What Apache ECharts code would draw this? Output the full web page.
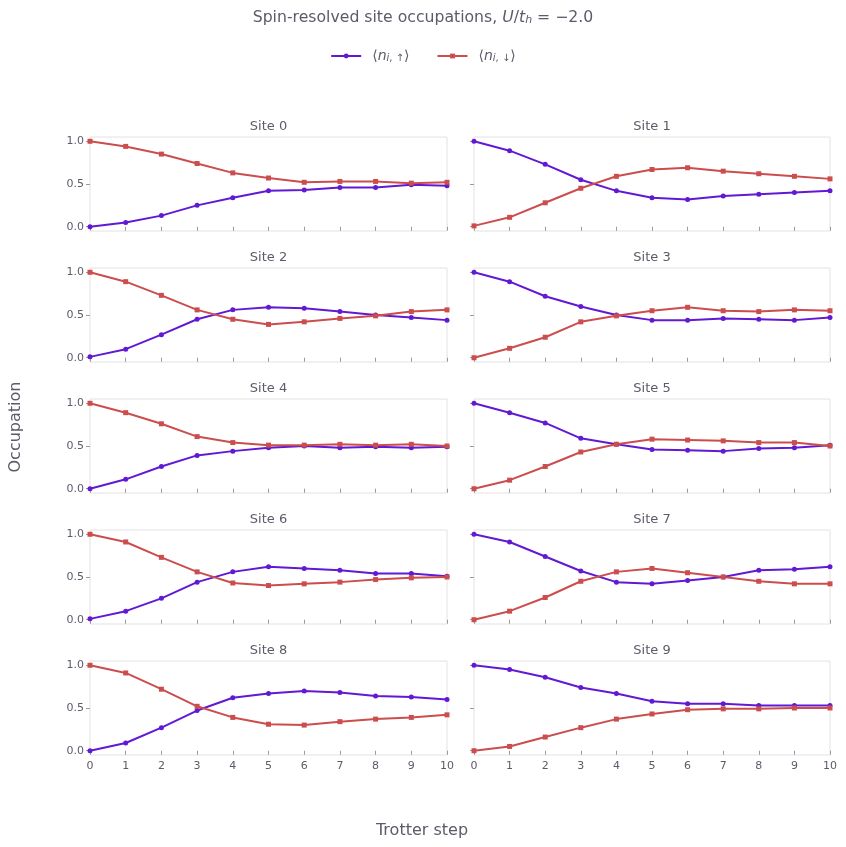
<!DOCTYPE html>
<html>
<head>
<meta charset="utf-8">
<title>Spin-resolved site occupations</title>
<script src="https://cdn.jsdelivr.net/npm/echarts@6.0.0/dist/echarts.min.js"></script>
<style>
  html, body { margin: 0; padding: 0; background: #fff; }
  #chart { width: 846px; height: 847px; }
</style>
</head>
<body>
<div id="chart"></div>
<script>
// Trotter steps and site labels
const steps = [0, 1, 2, 3, 4, 5, 6, 7, 8, 9, 10];
const sites = ['Site 0', 'Site 1', 'Site 2', 'Site 3', 'Site 4', 'Site 5', 'Site 6', 'Site 7', 'Site 8', 'Site 9'];
const yTicks = [0, 0.5, 1.0];

// <n_i,up> per site
const nUp = [
  [0.00, 0.05, 0.13, 0.25, 0.34, 0.42, 0.43, 0.46, 0.46, 0.49, 0.48],
  [1.00, 0.89, 0.73, 0.55, 0.42, 0.34, 0.32, 0.36, 0.38, 0.40, 0.42],
  [0.01, 0.10, 0.27, 0.45, 0.56, 0.59, 0.58, 0.54, 0.50, 0.47, 0.44],
  [1.00, 0.89, 0.72, 0.60, 0.50, 0.44, 0.44, 0.46, 0.45, 0.44, 0.47],
  [0.00, 0.11, 0.26, 0.39, 0.44, 0.48, 0.50, 0.48, 0.49, 0.48, 0.49],
  [1.00, 0.89, 0.77, 0.59, 0.52, 0.46, 0.45, 0.44, 0.47, 0.48, 0.51],
  [0.01, 0.10, 0.25, 0.44, 0.56, 0.62, 0.60, 0.58, 0.54, 0.54, 0.51],
  [1.00, 0.91, 0.74, 0.57, 0.44, 0.42, 0.46, 0.50, 0.58, 0.59, 0.62],
  [0.00, 0.09, 0.27, 0.47, 0.62, 0.67, 0.70, 0.68, 0.64, 0.63, 0.60],
  [1.00, 0.95, 0.86, 0.74, 0.67, 0.58, 0.55, 0.55, 0.53, 0.53, 0.53]
];

// <n_i,down> per site
const nDown = [
  [1.00, 0.94, 0.85, 0.74, 0.63, 0.57, 0.52, 0.53, 0.53, 0.51, 0.52],
  [0.01, 0.11, 0.28, 0.45, 0.59, 0.67, 0.69, 0.65, 0.62, 0.59, 0.56],
  [1.00, 0.89, 0.73, 0.56, 0.45, 0.39, 0.42, 0.46, 0.49, 0.54, 0.56],
  [0.00, 0.11, 0.24, 0.42, 0.49, 0.55, 0.59, 0.55, 0.54, 0.56, 0.55],
  [1.00, 0.89, 0.76, 0.61, 0.54, 0.51, 0.51, 0.52, 0.51, 0.52, 0.50],
  [0.00, 0.10, 0.26, 0.43, 0.52, 0.58, 0.57, 0.56, 0.54, 0.54, 0.50],
  [1.00, 0.91, 0.73, 0.56, 0.43, 0.40, 0.42, 0.44, 0.47, 0.49, 0.50],
  [0.00, 0.10, 0.26, 0.45, 0.56, 0.60, 0.55, 0.50, 0.45, 0.42, 0.42],
  [1.00, 0.91, 0.72, 0.52, 0.39, 0.31, 0.30, 0.34, 0.37, 0.39, 0.42],
  [0.00, 0.05, 0.16, 0.27, 0.37, 0.43, 0.48, 0.49, 0.49, 0.50, 0.50]
];

const UP_COLOR = '#6119d4';
const DOWN_COLOR = '#cc4d4d';
const TEXT = '#5f5969';
const FONT = 'DejaVu Sans';

const colLeft = [90, 474];
const colWidth = [357, 356];
const rowTop = 137;
const rowStep = 131;
const panelH = 94;

const grids = [], xAxes = [], yAxes = [], series = [], graphics = [];

sites.forEach((name, i) => {
  const row = Math.floor(i / 2);
  const col = i % 2;
  const left = colLeft[col];
  const top = rowTop + row * rowStep;
  grids.push({
    left: left, top: top, width: colWidth[col], height: panelH,
    show: true, borderColor: '#e2e2e2', borderWidth: 1, backgroundColor: 'transparent'
  });
  xAxes.push({
    gridIndex: i, type: 'value', min: 0, max: 10, interval: 1,
    axisLine: { show: false },
    axisTick: { show: true, length: 4, lineStyle: { color: '#9a9a9a' } },
    axisLabel: { show: row === 4, fontSize: 11, color: TEXT, fontFamily: FONT, margin: 6 },
    splitLine: { show: false }
  });
  yAxes.push({
    gridIndex: i, type: 'value', min: -0.05, max: 1.05,
    axisLine: { show: false },
    axisTick: { show: true, length: 4, customValues: yTicks, lineStyle: { color: '#9a9a9a' } },
    axisLabel: {
      show: col === 0, customValues: yTicks, fontSize: 11, color: TEXT, fontFamily: FONT, margin: 6,
      formatter: v => v.toFixed(1)
    },
    splitLine: { show: false }
  });
  series.push({
    name: 'up', type: 'line', xAxisIndex: i, yAxisIndex: i,
    data: steps.map((s, k) => [s, nUp[i][k]]),
    symbol: 'circle', symbolSize: 5, showAllSymbol: true,
    lineStyle: { width: 2, color: UP_COLOR }, itemStyle: { color: UP_COLOR },
    animation: false
  });
  series.push({
    name: 'down', type: 'line', xAxisIndex: i, yAxisIndex: i,
    data: steps.map((s, k) => [s, nDown[i][k]]),
    symbol: 'rect', symbolSize: 5, showAllSymbol: true,
    lineStyle: { width: 2, color: DOWN_COLOR }, itemStyle: { color: DOWN_COLOR },
    animation: false
  });
  graphics.push({
    type: 'text', x: left + colWidth[col] / 2, y: top - 10,
    style: { text: name, fontSize: 13, fill: TEXT, fontFamily: FONT, align: 'center', verticalAlign: 'middle' }
  });
});

graphics.push({
  type: 'text', x: 16, y: 427, rotation: Math.PI / 2,
  style: { text: 'Occupation', fontSize: 16, fill: TEXT, fontFamily: FONT, align: 'center', verticalAlign: 'middle' }
});
graphics.push({
  type: 'text', x: 422, y: 831,
  style: { text: 'Trotter step', fontSize: 16, fill: TEXT, fontFamily: FONT, align: 'center', verticalAlign: 'middle' }
});

const richText = {
  gap: { width: 6 },
  it: { fontStyle: 'italic', fontSize: 14, fontFamily: FONT, color: TEXT },
  sub: { fontSize: 10, fontFamily: FONT, color: TEXT, verticalAlign: 'bottom', lineHeight: 10 },
  subi: { fontSize: 10, fontStyle: 'italic', fontFamily: FONT, color: TEXT, verticalAlign: 'bottom', lineHeight: 10 }
};

const chart = echarts.init(document.getElementById('chart'));
chart.setOption({
  backgroundColor: '#ffffff',
  animation: false,
  title: {
    text: 'Spin-resolved site occupations, {it|U}/{it|t}{subi|h} = −2.0',
    left: 'center', top: 5,
    textStyle: {
      fontSize: 15.7, fontWeight: 'normal', color: TEXT, fontFamily: FONT,
      rich: {
        it: { fontSize: 15.7, fontStyle: 'italic', fontFamily: FONT, color: TEXT },
        subi: { fontSize: 11, fontStyle: 'italic', fontFamily: FONT, color: TEXT, verticalAlign: 'bottom', lineHeight: 11 }
      }
    }
  },
  legend: {
    data: ['up', 'down'], top: 44, left: 'center',
    itemWidth: 30, itemHeight: 6, itemGap: 27,
    formatter: n => n === 'up' ? '{gap|}⟨{it|n}{subi|i}{sub|, ↑}⟩' : '{gap|}⟨{it|n}{subi|i}{sub|, ↓}⟩',
    textStyle: { fontSize: 14, color: TEXT, fontFamily: FONT, rich: richText }
  },
  grid: grids,
  xAxis: xAxes,
  yAxis: yAxes,
  series: series,
  graphic: graphics
});
</script>
</body>
</html>
